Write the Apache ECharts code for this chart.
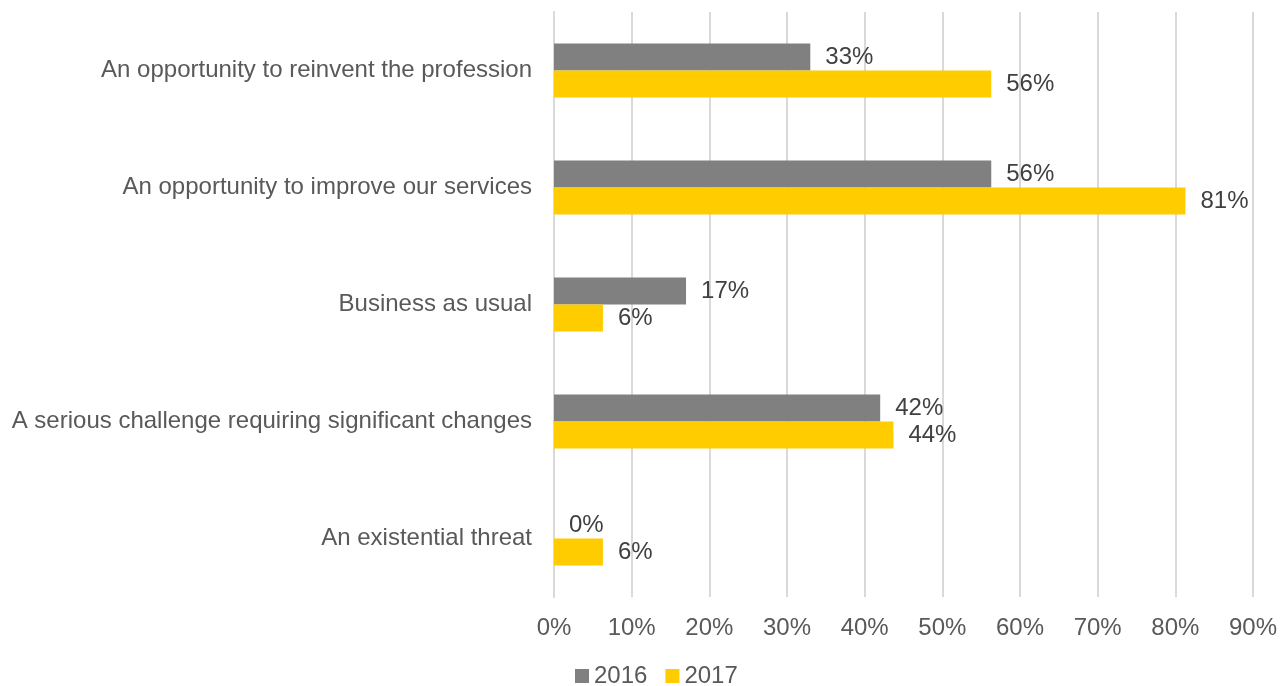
<!DOCTYPE html>
<html><head><meta charset="utf-8">
<script src="https://cdn.jsdelivr.net/npm/echarts@6/dist/echarts.min.js"></script>
<style>html,body{margin:0;padding:0;background:#fff}#c{width:1288px;height:686px}</style>
</head><body><div id="c"></div>
<script>
var categories = ["An opportunity to reinvent the profession","An opportunity to improve our services","Business as usual","A serious challenge requiring significant changes","An existential threat"];
var values2016 = [33, 56.3, 17, 42, 0];
var values2017 = [56.3, 81.3, 6.3, 43.7, 6.3];
var seriesNames = ["2016","2017"];
var xTicks = [0,10,20,30,40,50,60,70,80,90];

var font = "Liberation Sans, Arial, sans-serif";
var chart = echarts.init(document.getElementById('c'));
function lbl(){return {show:true,position:'right',distance:15,fontSize:24,fontFamily:font,color:'#404040',
  formatter:function(p){return Math.round(p.value)+'%';}};}
chart.setOption({
  animation:false,
  textStyle:{fontFamily:font},
  grid:{left:554,right:35,top:12,bottom:89},
  legend:{top:664,left:575,padding:0,icon:'rect',itemWidth:14,itemHeight:14,itemGap:18,
    textStyle:{fontSize:24,color:'#595959',fontFamily:font},data:seriesNames},
  xAxis:{type:'value',min:0,max:90,interval:10,
    axisLine:{show:false},axisTick:{show:false},
    splitLine:{show:true,lineStyle:{color:'#d9d9d9',width:2}},
    axisLabel:{fontSize:24,color:'#595959',margin:19,fontFamily:font,formatter:'{value}%'}},
  yAxis:{type:'category',inverse:true,data:categories,
    axisLine:{show:true,lineStyle:{color:'#d9d9d9',width:2}},axisTick:{show:false},
    axisLabel:{fontSize:24,color:'#595959',margin:22,fontFamily:font}},
  series:[
    {name:seriesNames[0],type:'bar',data:values2016,barWidth:27,barGap:'0%',itemStyle:{color:'#808080'},label:lbl()},
    {name:seriesNames[1],type:'bar',data:values2017,barWidth:27,barGap:'0%',itemStyle:{color:'#ffcc00'},label:lbl()}
  ]
});
</script></body></html>
